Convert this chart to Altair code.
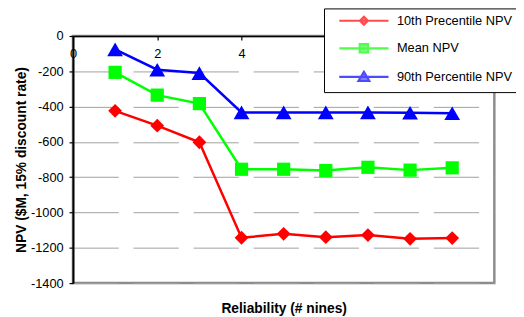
import altair as alt
import pandas as pd

reliability = [1, 2, 3, 4, 5, 6, 7, 8, 9]
series = ["10th Precentile NPV", "Mean NPV", "90th Percentile NPV"]
p10 = [-424, -508, -602, -1143, -1121, -1140, -1128, -1149, -1145]
mean = [-206, -335, -383, -755, -755, -762, -744, -760, -747]
p90 = [-76, -191, -210, -433, -433, -433, -433, -435, -438]
colors = ["#FF0000", "#00FF00", "#0000FF"]
shapes = ["diamond", "square", "triangle-up"]
sizes = [196, 180, 256]
legend_shapes = [
    "M-5,0H5M0,-0.8L0.8,0L0,0.8L-0.8,0Z",
    "M-5,0H5M-0.85,-0.85H0.85V0.85H-0.85Z",
    "M-5,0H5M0,-1.0L1.1,0.85H-1.1Z",
]
y_ticks = list(range(-1400, 1, 200))
x_ticks = [0, 2, 4]

rows = []
for name, vals in zip(series, [p10, mean, p90]):
    for xv, v in zip(reliability, vals):
        rows.append({"x": xv, "npv": v, "series": name})
df = pd.DataFrame(rows)

FONT = "Liberation Sans"
H = 251
W = 428


def make_legend():
    return alt.Legend(
        orient="none", legendX=255, legendY=-28, title=None,
        padding=6, symbolSize=100, symbolStrokeWidth=2.2, symbolOffset=28,
        labelOffset=27, rowPadding=10, labelFontSize=13,
        labelFont=FONT, labelColor="black", strokeColor="black",
        fillColor="white", cornerRadius=0,
    )


x = alt.X(
    "x:Q",
    scale=alt.Scale(domain=[0, 10], nice=False),
    axis=alt.Axis(
        values=x_ticks, orient="bottom", offset=-H, title="Reliability (# nines)",
        titleY=277, titleBaseline="middle", grid=False, domainColor="black",
        domainWidth=1.5, tickColor="black", tickSize=4, tickWidth=1.2, labelPadding=8,
        labelFontSize=13, labelFlush=False, titleFontSize=14, titleFontWeight="bold",
    ),
)
y = alt.Y(
    "npv:Q",
    scale=alt.Scale(domain=[-1400, 0], nice=False),
    axis=alt.Axis(
        values=y_ticks, labelExpr="datum.value + ''", title="NPV ($M, 15% discount rate)",
        grid=True, gridDash=[46, 15], gridColor="#a0a0a0", gridWidth=1,
        domainColor="black", domainWidth=2, tickColor="black", tickSize=4, tickWidth=1.2,
        labelPadding=6, labelFontSize=13, titleFontSize=14, titleFontWeight="bold",
        titlePadding=2,
    ),
)
color = alt.Color("series:N", scale=alt.Scale(domain=series, range=colors), legend=None)

# legend carrier layer: tiny marks hidden under the real markers
legend_layer = alt.Chart(df).mark_point(filled=True, size=1, strokeWidth=2).encode(
    x=x, y=y,
    fill=alt.Fill("series:N", scale=alt.Scale(domain=series, range=colors), legend=make_legend()),
    stroke=alt.Stroke("series:N", scale=alt.Scale(domain=series, range=colors), legend=make_legend()),
    shape=alt.Shape("series:N", scale=alt.Scale(domain=series, range=legend_shapes), legend=make_legend()),
)

lines = alt.Chart(df).mark_line(strokeWidth=2.5).encode(x=x, y=y, color=color)

point_layers = []
for name, shp, sz in zip(series, shapes, sizes):
    point_layers.append(
        alt.Chart(df)
        .transform_filter(alt.datum.series == name)
        .mark_point(filled=True, opacity=1, shape=shp, size=sz)
        .encode(x=x, y=y, color=color)
    )

chart = (
    alt.layer(legend_layer, lines, *point_layers)
    .properties(
        width=W, height=H,
        autosize=alt.AutoSizeParams(type="none"),
        padding={"left": 66, "top": 26, "right": 22, "bottom": 32},
        background="white",
    )
    .configure_view(stroke="#8c8c8c", strokeWidth=2.5)
    .configure_axis(labelFont=FONT, titleFont=FONT, labelColor="black", titleColor="black")
    .configure_legend(labelFont=FONT)
)

chart.save("out.html", embed_options={"renderer": "svg", "actions": False})
